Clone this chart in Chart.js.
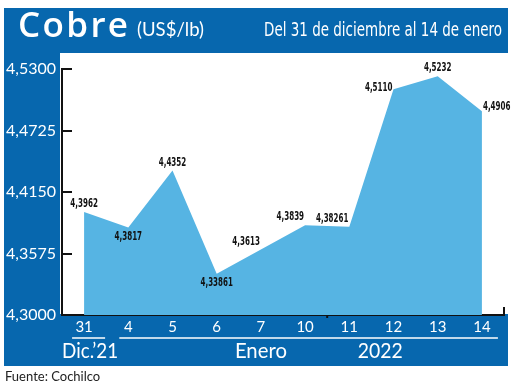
<!DOCTYPE html>
<html>
<head>
<meta charset="utf-8">
<script src="https://cdn.jsdelivr.net/npm/chart.js@4.4.1/dist/chart.umd.min.js"></script>
<style>
html,body{margin:0;padding:0;background:#fff;}
#wrap{position:relative;width:520px;height:387px;overflow:hidden;}
canvas{display:block;}
</style>
</head>
<body>
<div id="wrap"><canvas id="c" width="520" height="387"></canvas></div>
<script>
// ---- data ----
const categories = ['31', '4', '5', '6', '7', '10', '11', '12', '13', '14'];
const prices = [4.3962, 4.3817, 4.4352, 4.33861, 4.3613, 4.3839, 4.38261, 4.5110, 4.5232, 4.4906];
const yTickValues = [4.3000, 4.3575, 4.4150, 4.4725, 4.5300];
const groupLabels = ["Dic.\u201921", 'Enero', '2022'];
const titleText = 'Cobre';
const unitText = '(US$/lb)';
const periodText = 'Del 31 de diciembre al 14 de enero';
const sourceText = 'Fuente: Cochilco';

// ---- style ----
const BLUE = '#0767ae';
const FILL = '#56b4e3';
const labelAnchors = ['top', 'bottom', 'top', 'bottom', 'topleft', 'topleft', 'topleft', 'left', 'top', 'right'];
const anchorOffsets = {
  top: [0, -8, 'center'],
  bottom: [0, 9, 'center'],
  topleft: [-1, -8, 'right'],
  left: [-1, -1, 'right'],
  right: [1, -4, 'left']
};

function fmtPrice(v) {
  let s = v.toFixed(5);
  if (s.endsWith('0')) s = s.slice(0, -1);
  return s.replace('.', ',');
}

function spacedText(ctx, text, x, y, targetWidth) {
  const chars = [...text];
  const widths = chars.map(c => ctx.measureText(c).width);
  const total = widths.reduce((a, b) => a + b, 0);
  const gap = Math.max(0, (targetWidth - total) / (chars.length - 1));
  let cx = x;
  chars.forEach((c, i) => { ctx.fillText(c, cx, y); cx += widths[i] + gap; });
}

const decor = {
  id: 'decor',
  beforeDraw(chart) {
    const ctx = chart.ctx;
    ctx.save();
    ctx.fillStyle = '#fff';
    ctx.fillRect(0, 0, chart.width, chart.height);
    ctx.fillStyle = BLUE;
    ctx.fillRect(4, 8, 504, 358);
    ctx.fillStyle = '#fff';
    ctx.fillRect(60, 53, 448, 261);
    ctx.restore();
  },
  afterDraw(chart) {
    const ctx = chart.ctx;
    const xs = chart.scales.x, ys = chart.scales.y;
    const area = chart.chartArea;
    const p = i => xs.getPixelForValue(i);
    ctx.save();
    // header
    ctx.fillStyle = '#fff';
    ctx.textBaseline = 'alphabetic';
    ctx.textAlign = 'left';
    ctx.font = '600 35px "Open Sans"';
    spacedText(ctx, titleText, 18, 37, 110);
    ctx.font = '19px Lato';
    ctx.fillText(unitText, 137, 36, 67);
    ctx.textAlign = 'right';
    ctx.font = '20px "Liberation Sans Narrow", "DejaVu Sans Condensed"';
    ctx.fillText(periodText, 502, 36, 238);
    // y inner ticks
    ctx.strokeStyle = '#111';
    ctx.lineWidth = 2;
    ys.ticks.forEach(t => {
      const y = Math.round(ys.getPixelForValue(t.value));
      ctx.beginPath(); ctx.moveTo(area.left, y); ctx.lineTo(area.left + 10, y); ctx.stroke();
    });
    // right end tick and small mid tick
    ctx.beginPath(); ctx.moveTo(area.right, area.bottom - 8); ctx.lineTo(area.right, area.bottom); ctx.stroke();
    const mid = (p(5) + p(6)) / 2;
    ctx.beginPath(); ctx.moveTo(mid, area.bottom); ctx.lineTo(mid, area.bottom + 3); ctx.stroke();
    // underlines
    ctx.strokeStyle = '#fff';
    ctx.lineWidth = 1.5;
    const uy = 338;
    ctx.beginPath(); ctx.moveTo(p(0) - 12, uy); ctx.lineTo(p(0) + 21, uy); ctx.stroke();
    ctx.beginPath(); ctx.moveTo(p(1) - 9, uy); ctx.lineTo(p(9) + 16, uy); ctx.stroke();
    // group labels
    ctx.fillStyle = '#fff';
    ctx.textAlign = 'center';
    ctx.font = '21px Lato';
    ctx.fillText(groupLabels[0], p(0) + 6, 358, 56);
    ctx.fillText(groupLabels[1], p(4), 358, 52);
    ctx.fillText(groupLabels[2], p(6) + (p(7) - p(6)) * 0.7, 358, 45);
    // source
    ctx.fillStyle = '#222';
    ctx.textAlign = 'left';
    ctx.font = '13px Lato';
    ctx.fillText(sourceText, 5, 381);
    // data labels
    ctx.fillStyle = '#111';
    ctx.textBaseline = 'middle';
    ctx.font = 'bold 12px "Liberation Sans Narrow", "DejaVu Sans Condensed"';
    const meta = chart.getDatasetMeta(0);
    meta.data.forEach((pt, i) => {
      const [dx, dy, align] = anchorOffsets[labelAnchors[i]];
      const txt = fmtPrice(prices[i]);
      ctx.textAlign = align;
      ctx.fillText(txt, pt.x + dx, pt.y + dy, txt.length * 4.6);
    });
    ctx.restore();
  }
};

new Chart(document.getElementById('c'), {
  type: 'line',
  data: {
    labels: categories,
    datasets: [{
      data: prices,
      fill: 'start',
      backgroundColor: FILL,
      borderWidth: 0,
      borderColor: 'rgba(0,0,0,0)',
      pointRadius: 0,
      tension: 0
    }]
  },
  options: {
    responsive: false,
    animation: false,
    devicePixelRatio: 1,
    layout: { padding: { left: 0, right: 16, top: 69, bottom: 0 } },
    plugins: { legend: { display: false }, tooltip: { enabled: false } },
    scales: {
      x: {
        offset: true,
        z: 1,
        grid: { display: false, drawTicks: false },
        border: { display: true, color: '#111', width: 2 },
        ticks: { color: '#fff', font: { family: 'Lato', size: 15 }, padding: 3, maxRotation: 0, autoSkip: false },
        afterFit: s => { s.height = 72; }
      },
      y: {
        min: 4.30,
        max: 4.53,
        z: 1,
        grid: { display: false, drawTicks: false },
        border: { display: true, color: '#111', width: 2 },
        ticks: { color: '#fff', font: { family: 'Lato', size: 16 }, padding: 6,
          callback: v => v.toFixed(4).replace('.', ',') },
        afterBuildTicks: s => { s.ticks = yTickValues.map(v => ({ value: v })); },
        afterFit: s => { s.width = 62; }
      }
    }
  },
  plugins: [decor]
});
</script>
</body>
</html>
